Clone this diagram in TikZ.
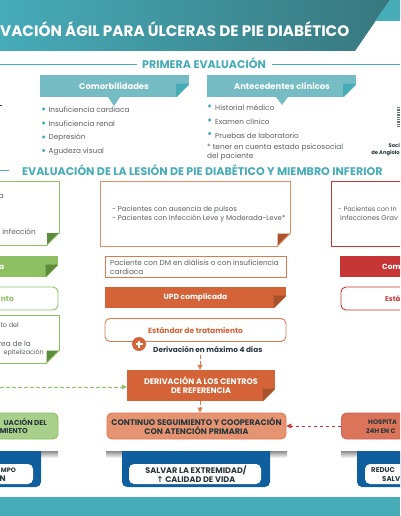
\documentclass[tikz,border=0pt]{standalone}
\usepackage{fontspec}
\setmainfont{Poppins}
\newfontfamily\symbfont{DejaVu Sans}
\usetikzlibrary{arrows.meta}
\definecolor{tealhead}{HTML}{46ACB8}
\definecolor{tealbox}{HTML}{76BCC5}
\definecolor{greenline}{HTML}{8CC063}
\definecolor{greendark}{HTML}{5E8A3C}
\definecolor{orangeline}{HTML}{E0784F}
\definecolor{orangefill}{HTML}{D46338}
\definecolor{orangedark}{HTML}{A8532B}
\definecolor{redline}{HTML}{C73636}
\definecolor{bluetab}{HTML}{0F5F9F}
\definecolor{bodytext}{HTML}{5A5F60}
\definecolor{darktext}{HTML}{26363A}

\begin{document}
\begin{tikzpicture}[x=1pt, y=-1pt,
  heading/.style={text=tealhead, font=\fontsize{11.1}{13}\selectfont\bfseries, inner sep=0pt},
  body/.style={text=bodytext, font=\fontsize{7.3}{8.8}\selectfont, inner sep=0pt, anchor=west},
  tabtitle/.style={text=white, font=\fontsize{8.4}{10}\selectfont\bfseries, inner sep=0pt},
  whitebold/.style={text=white, font=\fontsize{7.5}{9}\selectfont\bfseries, inner sep=0pt},
  darkbold/.style={text=darktext, font=\fontsize{8.1}{9}\selectfont\bfseries, inner sep=0pt, align=center},
  tealbullet/.style={circle, fill=tealhead, minimum size=3.5pt, inner sep=0pt},
  outcome/.style={rounded corners=5pt, line width=0.9pt},
  bluewhite/.style={fill=white, rounded corners=5pt},
  tabshade/.style={top color=black!45, bottom color=white},
  flow/.style={dash pattern=on 3.5pt off 2.5pt, line width=0.8pt, -{Triangle[length=5pt,width=5pt]}}]

  \useasboundingbox (0,0) rectangle (400,516);
  \clip (0,0) rectangle (400,516);

  % header band
  \shade[left color=tealhead, right color=tealhead!65!black!95] (0,0) -- (390,0) -- (355,51) -- (0,51) -- cycle;
  \fill[tealhead] (390,0) -- (400,0) -- (400,21) -- (375,21) -- cycle;
  \node[text=white, font=\fontsize{15.2}{17}\selectfont\bfseries, inner sep=0pt, anchor=west] (title) at (0,29) {VACIÓN ÁGIL PARA ÚLCERAS DE PIE DIABÉTICO};

  % first heading with its rules
  \node[heading] (first) at (204,63.5) {PRIMERA EVALUACIÓN};
  \coordinate (firstL) at (0,64); \coordinate (firstR) at (400,64);
  \draw[tealhead, line width=0.9pt] (firstL) -- (137,64);
  \draw[tealhead, line width=0.9pt] (272,64) -- (firstR);

  % two tabs
  \fill[tealbox] (40,75) rectangle (189,97);
  \fill[tealbox] (108,97) -- (120,97) -- (114,106) -- cycle;
  \node[tabtitle] (comorb) at (114,86.5) {Comorbilidades};
  \fill[tealbox] (207,75) rectangle (356,97);
  \fill[tealbox] (276,97) -- (288,97) -- (282,105) -- cycle;
  \node[tabtitle] (antec) at (282,86.5) {Antecedentes clínicos};

  % bullet lists
  \foreach \by/\bt [count=\bi] in {109/Insuficiencia cardiaca, 123/Insuficiencia renal, 137/Depresión, 150.5/Agudeza visual} {
    \node[tealbullet] (bulA\bi) at (43.5,\by) {};
    \node[body] (itemA\bi) at (48.5,\by+1) {\bt};
  }
  \foreach \by/\bt [count=\bi] in {106/Historial médico, 120/Examen clínico, 133.5/Pruebas de laboratorio} {
    \node[tealbullet] (bulB\bi) at (209.5,\by) {};
    \node[body] (itemB\bi) at (215,\by+2) {\bt};
  }
  \node[body, font=\fontsize{7.4}{8.4}\selectfont, align=left] (note) at (207,152) {* tener en cuenta estado psicosocial\\del paciente};

  % logo fragments at the page edges
  \draw[darktext, line width=0.7pt] (0,105) -- (2,105);
  \draw[darktext!70, line width=3pt, dash pattern=on 1pt off 0.7pt] (398,107) -- (398,127);
  \node[text=darktext, font=\fontsize{5.2}{8}\selectfont\bfseries, inner sep=0pt, anchor=east] (socA) at (400,145) {Soci};
  \node[text=darktext, font=\fontsize{5.2}{8}\selectfont\bfseries, inner sep=0pt, anchor=east] (socB) at (400,153) {de Angiolo};

  % second heading
  \node[heading, anchor=west] (second) at (22,170) {EVALUACIÓN DE LA LESIÓN DE PIE DIABÉTICO Y MIEMBRO INFERIOR};
  \draw[tealhead, line width=0.9pt] (0,170) -- (9,170);

  % notes of the three columns
  \draw[greenline, line width=0.9pt, fill=white] (-5,181) rectangle (59,245);
  \draw[orangeline!85, line width=0.9pt, fill=white] (100,181) rectangle (290,246);
  \draw[redline, line width=0.9pt, fill=white] (331,181) rectangle (410,246);
  \node[body, anchor=east] (gA) at (4,196) {a};
  \node[body, anchor=east] (gB) at (36,231.5) {infección};
  \node[body, font=\fontsize{7}{8.6}\selectfont, align=left] (oA) at (112,214.5) {- Pacientes con ausencia de pulsos\\- Pacientes con Infección Leve y  Moderada-Leve*};
  \node[body, font=\fontsize{6.5}{8}\selectfont] (rA) at (338,209) {- Pacientes con In};
  \node[body, font=\fontsize{6.9}{8}\selectfont] (rB) at (340,218) {infecciones Grav};

  % second row
  \fill[greenline] (-5,256) rectangle (58,277);
  \node[whitebold, anchor=east] (gC) at (4.5,267) {a};
  \draw[orangeline, line width=0.9pt] (105,256) rectangle (286,277);
  \node[body, align=left] (oB) at (110,267.5) {Paciente con DM en diálisis o con insuficiencia\\cardiaca};
  \fill[redline] (340,256) rectangle (410,277);
  \node[whitebold, anchor=west] (rC) at (382,267) {Com};

  % third row
  \draw[outcome, greenline] (-10,287) rectangle (58,310);
  \node[whitebold, text=greenline, anchor=east] (gD) at (14,299) {nto};
  \node[whitebold, fill=orangefill, minimum width=181pt, minimum height=21pt] (upd) at (195.5,297.5) {UPD complicada};
  \draw[outcome, redline] (341,287) rectangle (410,310);
  \node[whitebold, text=redline, font=\fontsize{6.9}{9}\selectfont\bfseries, anchor=west] (rD) at (385,299) {Está};

  % fourth row
  \draw[greenline, line width=0.9pt, fill=white] (-5,315) rectangle (59,363);
  \node[body, font=\fontsize{6.5}{8}\selectfont, anchor=east] (gE) at (19,325) {to del};
  \node[body, anchor=east] (gF) at (31,344) {rea de la};
  \node[body, font=\fontsize{6.4}{8}\selectfont, anchor=east] (gG) at (44,353) {epitelización};
  \node[draw=orangeline, outcome, fill=white, minimum width=181pt, minimum height=23pt, inner sep=0pt] (std) at (195.5,330) {};
  \node[whitebold, text=orangefill] (stdT) at (195.5,330) {Estándar de tratamiento};
  \node[circle, fill=orangefill, minimum size=14pt, inner sep=0pt] (plus) at (139,344) {};
  \draw[white, line width=1.6pt] (plus.center) ++(-3.5,0) -- ++(7,0);
  \draw[white, line width=1.6pt] (plus.center) ++(0,-3.5) -- ++(0,7);
  \node[darkbold, font=\fontsize{7.3}{9}\selectfont\bfseries, anchor=west] (days) at (153,349) {Derivación en máximo 4 días};

  % referral box
  \node[whitebold, font=\fontsize{8}{9}\selectfont\bfseries, align=center, fill=orangefill, minimum width=148pt, minimum height=31pt] (refer) at (201,385.5) {DERIVACIÓN A LOS CENTROS\\DE REFERENCIA};

  % corners of notes and banners
  \foreach \fx/\fy/\fs/\fc in {59/245/12/greendark, 290/246/12.5/orangedark, 58/277/12.5/greendark, 286/308/12.5/orangedark, 59/363/12.5/greendark, 275/401/12.5/orangedark} {
    \fill[white] (\fx+1,\fy-\fs) -- (\fx+1,\fy+1) -- (\fx-\fs,\fy+1) -- cycle;
    \fill[\fc] (\fx-\fs,\fy-\fs) -- (\fx,\fy-\fs) -- (\fx-\fs,\fy) -- cycle;
  }
  \draw[greenline, line width=0.9pt] (59,233) -- (47,245);
  \draw[orangeline!85, line width=0.9pt] (290,233.5) -- (277.5,246);
  \draw[greenline, line width=0.9pt] (59,350.5) -- (46.5,363);
  % tab corners
  \foreach \fx in {189,356} {
    \fill[white] (\fx+1,84) -- (\fx+1,98) -- (\fx-13,98) -- cycle;
    \fill[tealhead] (\fx-13,84) -- (\fx,84) -- (\fx-13,97) -- cycle;
  }

  % outcome boxes
  \draw[outcome, greenline, fill=greenline!75] (-10,413) rectangle (58,439);
  \node[darkbold, font=\fontsize{7.2}{9}\selectfont\bfseries, anchor=east] (gH) at (47,422) {UACIÓN DEL};
  \node[darkbold, font=\fontsize{7.2}{9}\selectfont\bfseries, anchor=east] (gI) at (28,431) {MIENTO};
  \node[draw=orangeline, outcome, fill=orangeline!80, minimum width=179pt, minimum height=26pt, inner sep=0pt] (follow) at (196.5,426) {};
  \node[darkbold] (followT) at (196.5,426.5) {CONTINUO SEGUIMIENTO Y COOPERACIÓN\\CON ATENCIÓN PRIMARIA};
  \node[draw=redline!80, outcome, fill=orangeline!70!redline!90, minimum width=69pt, minimum height=26pt, inner sep=0pt, anchor=west] (hosp) at (341,426) {};
  \node[darkbold, font=\fontsize{6.6}{9}\selectfont\bfseries, anchor=west] (hA) at (368,422) {HOSPITA};
  \node[darkbold, font=\fontsize{6.6}{9}\selectfont\bfseries, anchor=west] (hB) at (366,431) {24H EN C};

  % connectors
  \coordinate (greenfree) at (0,387);
  \coordinate (stdout) at (200,355);
  \draw[flow, orangeline] (stdout) -- (stdout |- refer.north);
  \draw[flow, orangeline] (stdout |- refer.south) -- (stdout |- follow.north);
  \draw[flow, greenline] (greenfree) -- (greenfree -| refer.west);
  \draw[flow, redline] (hosp.west) -- (follow.east);

  % blue tabs at the bottom
  \shade[tabshade] (41,451) rectangle (58,458);
  \shade[tabshade] (106,451) rectangle (122,458);
  \shade[tabshade] (270,451) rectangle (287,458);
  \shade[tabshade] (341,451) rectangle (357,458);
  \fill[bluetab] (41,451) [rounded corners=5pt] -- (41,487) [sharp corners] -- (-10,487) -- (-10,451) -- cycle;
  \fill[bluetab] (122,451) [rounded corners=5pt] -- (122,487) -- (270,487) [sharp corners] -- (270,451) -- cycle;
  \fill[bluetab] (357,451) [rounded corners=5pt] -- (357,487) [sharp corners] -- (410,487) -- (410,451) -- cycle;
  \fill[bluewhite] (-10,464) rectangle (33,484);
  \fill[bluewhite] (129,464) rectangle (261,484);
  \fill[bluewhite] (365,464) rectangle (410,484);
  \node[darkbold, font=\fontsize{6.4}{9}\selectfont\bfseries, anchor=east] (tA) at (16,470) {MPO};
  \node[darkbold, anchor=east] (tB) at (6,479) {N};
  \node[darkbold] (tC) at (196,474.5) {SALVAR LA EXTREMIDAD/\\{\symbfont\bfseries ↑} CALIDAD DE VIDA};
  \node[darkbold, font=\fontsize{7}{9}\selectfont\bfseries, anchor=west] (tD) at (371,470) {REDUC};
  \node[darkbold, font=\fontsize{7}{9}\selectfont\bfseries, anchor=west] (tE) at (382,479) {SALV};

  % bottom band
  \fill[tealhead] (0,497) rectangle (400,516);
\end{tikzpicture}
\end{document}
